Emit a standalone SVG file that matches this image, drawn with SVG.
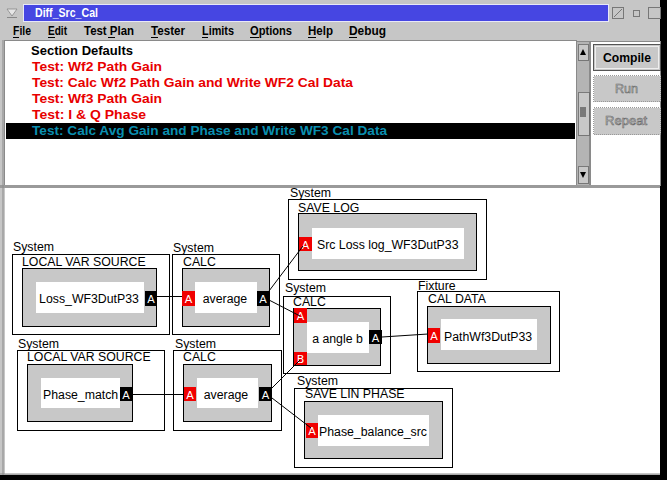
<svg xmlns="http://www.w3.org/2000/svg" width="667" height="480" viewBox="0 0 667 480">
<style>
.ui{font-family:"Liberation Sans",Arial,sans-serif;font-weight:bold;font-size:13px}
.menu{fill:#000}
.red{fill:#e80000}
.sel{fill:#0a8fb0}
.lbl{font-family:"Liberation Sans",Arial,sans-serif;font-size:12.3px;fill:#000}
.outer{fill:#fff;stroke:#000;stroke-width:1}
.inner{fill:#c8c8c8;stroke:#000;stroke-width:1}
.face{fill:#fff}
.pin{fill:#f00000}
.pout{fill:#000}
.pl{font-family:"DejaVu Sans",sans-serif;font-size:11px;fill:#fff;text-anchor:middle}
.dis{font-family:"Liberation Sans",Arial,sans-serif;font-size:13px;fill:#c8c8c8;stroke:#6a6a6a;stroke-width:0.6}
.conn line{stroke:#000;stroke-width:1}
rect{shape-rendering:crispEdges}
</style>
<!-- window frame -->
<rect x="0" y="0" width="667" height="480" fill="#c6c6c6"/>
<rect x="660" y="0" width="7" height="480" fill="#000"/>
<rect x="0" y="475" width="667" height="5" fill="#000"/>
<!-- title bar -->
<g id="titlebar">
<rect x="23" y="4" width="585" height="17" fill="#4646e2" stroke="#e8e8f8" stroke-width="1"/>
<text x="35" y="17" class="ui" fill="#fff" textLength="63" lengthAdjust="spacingAndGlyphs">Diff_Src_Cal</text>
<polygon points="7,9 17,9 12,16" fill="#e6e6e6" stroke="#888" stroke-width="0.8"/>
<line x1="7" y1="17.5" x2="17" y2="17.5" stroke="#888"/>
<rect x="612.5" y="7.5" width="11" height="11" fill="#c6c6c6" stroke="#777"/>
<line x1="614" y1="17" x2="622" y2="9" stroke="#777"/>
<rect x="633.5" y="10.5" width="6" height="6" fill="#c6c6c6" stroke="#777"/>
<rect x="648.5" y="7.5" width="12" height="11" fill="#c6c6c6" stroke="#777"/>
</g>
<!-- menu bar -->
<g id="menubar" class="ui menu">
<text x="13" y="35" textLength="18" lengthAdjust="spacingAndGlyphs">File</text>
<text x="48" y="35" textLength="19" lengthAdjust="spacingAndGlyphs">Edit</text>
<text x="84" y="35" textLength="50" lengthAdjust="spacingAndGlyphs">Test Plan</text>
<text x="151" y="35" textLength="34" lengthAdjust="spacingAndGlyphs">Tester</text>
<text x="202" y="35" textLength="32" lengthAdjust="spacingAndGlyphs">Limits</text>
<text x="250" y="35" textLength="42" lengthAdjust="spacingAndGlyphs">Options</text>
<text x="308" y="35" textLength="25" lengthAdjust="spacingAndGlyphs">Help</text>
<text x="349" y="35" textLength="37" lengthAdjust="spacingAndGlyphs">Debug</text>
<g stroke="#000" stroke-width="1">
<line x1="13" y1="37.5" x2="19" y2="37.5"/>
<line x1="48" y1="37.5" x2="55" y2="37.5"/>
<line x1="108" y1="37.5" x2="115" y2="37.5"/>
<line x1="151" y1="37.5" x2="158" y2="37.5"/>
<line x1="202" y1="37.5" x2="208" y2="37.5"/>
<line x1="250" y1="37.5" x2="259" y2="37.5"/>
<line x1="308" y1="37.5" x2="316" y2="37.5"/>
<line x1="349" y1="37.5" x2="357" y2="37.5"/>
</g>
</g>
<!-- list panel -->
<g id="testlist">
<rect x="4.5" y="40.5" width="572" height="145" fill="#fff" stroke="#8a8a8a"/>
<rect x="6" y="123" width="569" height="16" fill="#000"/>
<text x="31" y="55" class="ui menu" textLength="102" lengthAdjust="spacingAndGlyphs">Section Defaults</text>
<text x="32" y="71" class="ui red" textLength="130" lengthAdjust="spacingAndGlyphs">Test: Wf2 Path Gain</text>
<text x="32" y="87" class="ui red" textLength="321" lengthAdjust="spacingAndGlyphs">Test: Calc Wf2 Path Gain and Write WF2 Cal Data</text>
<text x="32" y="103" class="ui red" textLength="130" lengthAdjust="spacingAndGlyphs">Test: Wf3 Path Gain</text>
<text x="32" y="119" class="ui red" textLength="114" lengthAdjust="spacingAndGlyphs">Test: I &amp; Q Phase</text>
<text x="32" y="135" class="ui sel" textLength="355" lengthAdjust="spacingAndGlyphs">Test: Calc Avg Gain and Phase and Write WF3 Cal Data</text>
</g>
<!-- scrollbar -->
<g id="scrollbar">
<rect x="576.5" y="41.5" width="13" height="144" fill="#b4b4b4" stroke="#8a8a8a"/>
<rect x="578" y="44" width="10" height="16" fill="#c8c8c8" stroke="#666" stroke-width="0.8"/>
<polygon points="580,55 586,55 583,49" fill="#000"/>
<rect x="578" y="92" width="11" height="43" fill="#c8c8c8" stroke="#666" stroke-width="0.8"/>
<g stroke="#000" stroke-width="0.8"><line x1="580" y1="108" x2="586" y2="108"/><line x1="580" y1="110" x2="586" y2="110"/><line x1="580" y1="112" x2="586" y2="112"/><line x1="580" y1="114" x2="586" y2="114"/><line x1="580" y1="116" x2="586" y2="116"/></g>
<rect x="578" y="166" width="10" height="17" fill="#c8c8c8" stroke="#666" stroke-width="0.8"/>
<polygon points="580,172 586,172 583,178" fill="#000"/>
</g>
<!-- buttons -->
<g id="buttons">
<rect x="590.5" y="41.5" width="70" height="144" fill="#fff" stroke="#8a8a8a"/>
<g id="btn-compile">
<rect x="593.5" y="44.5" width="67" height="26" fill="#c8c8c8" stroke="#555"/>
<rect x="595.5" y="46.5" width="63" height="22" fill="none" stroke="#eee"/>
<text x="603" y="62" class="ui menu" textLength="48" lengthAdjust="spacingAndGlyphs">Compile</text>
</g>
<g id="btn-run">
<rect x="593.5" y="75.5" width="67" height="26" fill="#c8c8c8" stroke="#999" stroke-dasharray="1,1"/>
<text x="615" y="93" class="dis" textLength="23" lengthAdjust="spacingAndGlyphs">Run</text>
</g>
<g id="btn-repeat">
<rect x="593.5" y="107.5" width="67" height="27" fill="#c8c8c8" stroke="#999" stroke-dasharray="1,1"/>
<text x="605" y="125" class="dis" textLength="42" lengthAdjust="spacingAndGlyphs">Repeat</text>
</g>
</g>
<!-- diagram canvas -->
<rect x="0" y="185" width="660" height="3" fill="#9a9a9a"/>
<rect x="5" y="188" width="655" height="286" fill="#fff"/>
<line x1="3" y1="40" x2="3" y2="475" stroke="#8a8a8a"/>
<line x1="0" y1="474" x2="660" y2="474" stroke="#8a8a8a"/>

<g id="node-local-loss">
<text x="13" y="251" class="lbl">System</text>
<rect x="12.5" y="254.5" width="157" height="80" class="outer"/>
<text x="22" y="266" class="lbl">LOCAL VAR SOURCE</text>
<rect x="22.5" y="268.5" width="134" height="58" class="inner"/>
<rect x="36" y="282" width="108" height="31" class="face"/>
<text x="89" y="303" class="lbl" text-anchor="middle">Loss_WF3DutP33</text>
<rect x="145" y="291" width="12" height="15" class="pout"/>
<text x="151" y="303" class="pl">A</text>
</g>
<g id="node-calc-avg1">
<text x="173" y="252" class="lbl">System</text>
<rect x="172.5" y="254.5" width="107" height="80" class="outer"/>
<text x="183" y="266" class="lbl">CALC</text>
<rect x="182.5" y="268.5" width="87" height="58" class="inner"/>
<rect x="195" y="282" width="62" height="31" class="face"/>
<text x="225" y="303" class="lbl" text-anchor="middle">average</text>
<rect x="182" y="291" width="13" height="15" class="pin"/>
<text x="188.5" y="303" class="pl">A</text>
<rect x="257" y="291" width="12" height="15" class="pout"/>
<text x="263" y="303" class="pl">A</text>
</g>
<g id="node-save-log">
<text x="290" y="197" class="lbl">System</text>
<rect x="288.5" y="199.5" width="198" height="80" class="outer"/>
<text x="298" y="212" class="lbl">SAVE LOG</text>
<rect x="298.5" y="213.5" width="178" height="57" class="inner"/>
<rect x="312" y="228" width="152" height="31" class="face"/>
<text x="317" y="249" class="lbl">Src Loss log_WF3DutP33</text>
<rect x="299" y="237" width="13" height="14" class="pin"/>
<text x="305.5" y="248.5" class="pl">A</text>
</g>
<g id="node-calc-angle">
<text x="285" y="292" class="lbl">System</text>
<rect x="283.5" y="296.5" width="107" height="77" class="outer"/>
<text x="293" y="306" class="lbl">CALC</text>
<rect x="293.5" y="308.5" width="87" height="57" class="inner"/>
<rect x="307" y="322" width="62" height="31" class="face"/>
<text x="337.5" y="343" class="lbl" text-anchor="middle">a angle b</text>
<rect x="294" y="308" width="13" height="15" class="pin"/>
<text x="300.5" y="320" class="pl">A</text>
<rect x="294" y="352" width="13" height="13" class="pin"/>
<text x="300.5" y="363" class="pl">B</text>
<rect x="369" y="330" width="13" height="14" class="pout"/>
<text x="375.5" y="341.5" class="pl">A</text>
</g>
<g id="node-cal-data">
<text x="418" y="290" class="lbl">Fixture</text>
<rect x="417.5" y="291.5" width="142" height="80" class="outer"/>
<text x="428" y="303" class="lbl">CAL DATA</text>
<rect x="427.5" y="306.5" width="123" height="57" class="inner"/>
<rect x="441" y="319" width="96" height="31" class="face"/>
<text x="444" y="341" class="lbl">PathWf3DutP33</text>
<rect x="428" y="328" width="12" height="15" class="pin"/>
<text x="434" y="340" class="pl">A</text>
</g>
<g id="node-local-phase">
<text x="18" y="348" class="lbl">System</text>
<rect x="17.5" y="350.5" width="147" height="80" class="outer"/>
<text x="27" y="361" class="lbl">LOCAL VAR SOURCE</text>
<rect x="27.5" y="364.5" width="105" height="57" class="inner"/>
<rect x="41" y="378" width="79" height="30" class="face"/>
<text x="43" y="399" class="lbl">Phase_match</text>
<rect x="120" y="387" width="12" height="14" class="pout"/>
<text x="126" y="398.5" class="pl">A</text>
</g>
<g id="node-calc-avg2">
<text x="175" y="348" class="lbl">System</text>
<rect x="173.5" y="350.5" width="108" height="80" class="outer"/>
<text x="183" y="361" class="lbl">CALC</text>
<rect x="183.5" y="364.5" width="88" height="57" class="inner"/>
<rect x="197" y="378" width="61" height="30" class="face"/>
<text x="226" y="399" class="lbl" text-anchor="middle">average</text>
<rect x="184" y="387" width="12" height="14" class="pin"/>
<text x="190" y="398.5" class="pl">A</text>
<rect x="259" y="387" width="13" height="14" class="pout"/>
<text x="265.5" y="398.5" class="pl">A</text>
</g>
<g id="node-save-lin-phase">
<text x="297" y="385" class="lbl">System</text>
<rect x="294.5" y="388.5" width="158" height="79" class="outer"/>
<text x="305" y="398" class="lbl">SAVE LIN PHASE</text>
<rect x="304.5" y="401.5" width="138" height="57" class="inner"/>
<rect x="318" y="415" width="111" height="31" class="face"/>
<text x="319" y="436" class="lbl">Phase_balance_src</text>
<rect x="306" y="423" width="12" height="15" class="pin"/>
<text x="312" y="435" class="pl">A</text>
</g>
<g id="connectors" class="conn">
<line x1="157" y1="296.5" x2="182" y2="296.5"/>
<line x1="269" y1="291" x2="303" y2="246"/>
<line x1="269" y1="300" x2="300" y2="316"/>
<line x1="382" y1="337" x2="428" y2="334"/>
<line x1="132" y1="394.5" x2="184" y2="394.5"/>
<line x1="272" y1="388" x2="300" y2="360"/>
<line x1="272" y1="398" x2="311" y2="428"/>
</g>
</svg>
